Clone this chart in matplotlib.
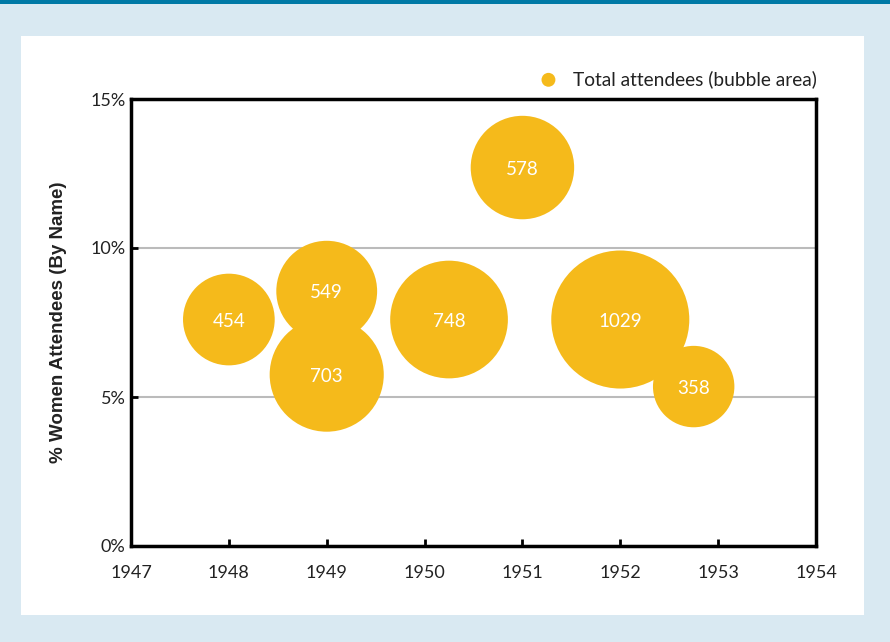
import numpy as np
import matplotlib.pyplot as plt
from matplotlib.patches import Rectangle

# data
years = [1948.0, 1949.0, 1949.0, 1950.25, 1951.0, 1952.0, 1952.75]
pct_women = [7.6, 8.55, 5.75, 7.6, 12.7, 7.6, 5.35]
attendees = [454, 549, 703, 748, 578, 1029, 358]

x_ticks = [1947, 1948, 1949, 1950, 1951, 1952, 1953, 1954]
y_ticks = [0, 5, 10, 15]
y_ticklabels = ['0%', '5%', '10%', '15%']

gold = '#f5ba1b'
txt = '#222222'

fig = plt.figure(figsize=(8.9, 6.42), dpi=100)
fig.patch.set_facecolor('#d9e9f2')
fig.patches.append(Rectangle((21/890, 27/642), 843/890, 579/642, transform=fig.transFigure,
                             facecolor='white', edgecolor='none', zorder=-2))
fig.patches.append(Rectangle((0, 638/642), 1, 4/642, transform=fig.transFigure,
                             facecolor='#0079a6', edgecolor='none', zorder=-2))

ax = fig.add_axes([131/890, 96/642, 685/890, 447/642])
ax.set_zorder(2)
ax.set_facecolor('none')

# area proportional to attendees
sizes = np.array(attendees) * 9.6
ax.scatter(years, pct_women, s=sizes, color=gold, edgecolors='none', zorder=3,
           label='Total attendees (bubble area)')
for x, y, n in zip(years, pct_women, attendees):
    ax.text(x, y - 0.05, str(n), color='white', ha='center', va='center', fontsize=13.5,
            family='Lato', zorder=4)

ax.set_xlim(1947, 1954)
ax.set_ylim(0, 15)
ax.set_xticks(x_ticks)
ax.set_xticklabels([str(t) for t in x_ticks])
ax.set_yticks(y_ticks)
ax.set_yticklabels(y_ticklabels)
ax.grid(axis='y', color='#bbbbbb', linewidth=1.5, zorder=1)
ax.set_axisbelow(True)

for s in ax.spines.values():
    s.set_linewidth(2.5)
    s.set_color('black')
ax.tick_params(direction='in', length=5, width=2, colors='black', labelcolor=txt,
               labelsize=13)
ax.tick_params(axis='x', pad=14)
ax.tick_params(axis='y', pad=4)
for lab in ax.get_xticklabels() + ax.get_yticklabels():
    lab.set_family('Lato')

ax.set_ylabel('% Women Attendees (By Name)', fontsize=13.5, fontweight='bold',
              family='Liberation Sans', color=txt, labelpad=17)

leg = ax.legend(loc='center right', bbox_to_anchor=(1.027, 1.045), frameon=False,
                handletextpad=0.3, markerscale=1, prop={'family': 'Lato', 'size': 13.8})
for t in leg.get_texts():
    t.set_color(txt)
for h in leg.legend_handles:
    h.set_sizes([100])

fig.savefig('out.png', dpi=100)
